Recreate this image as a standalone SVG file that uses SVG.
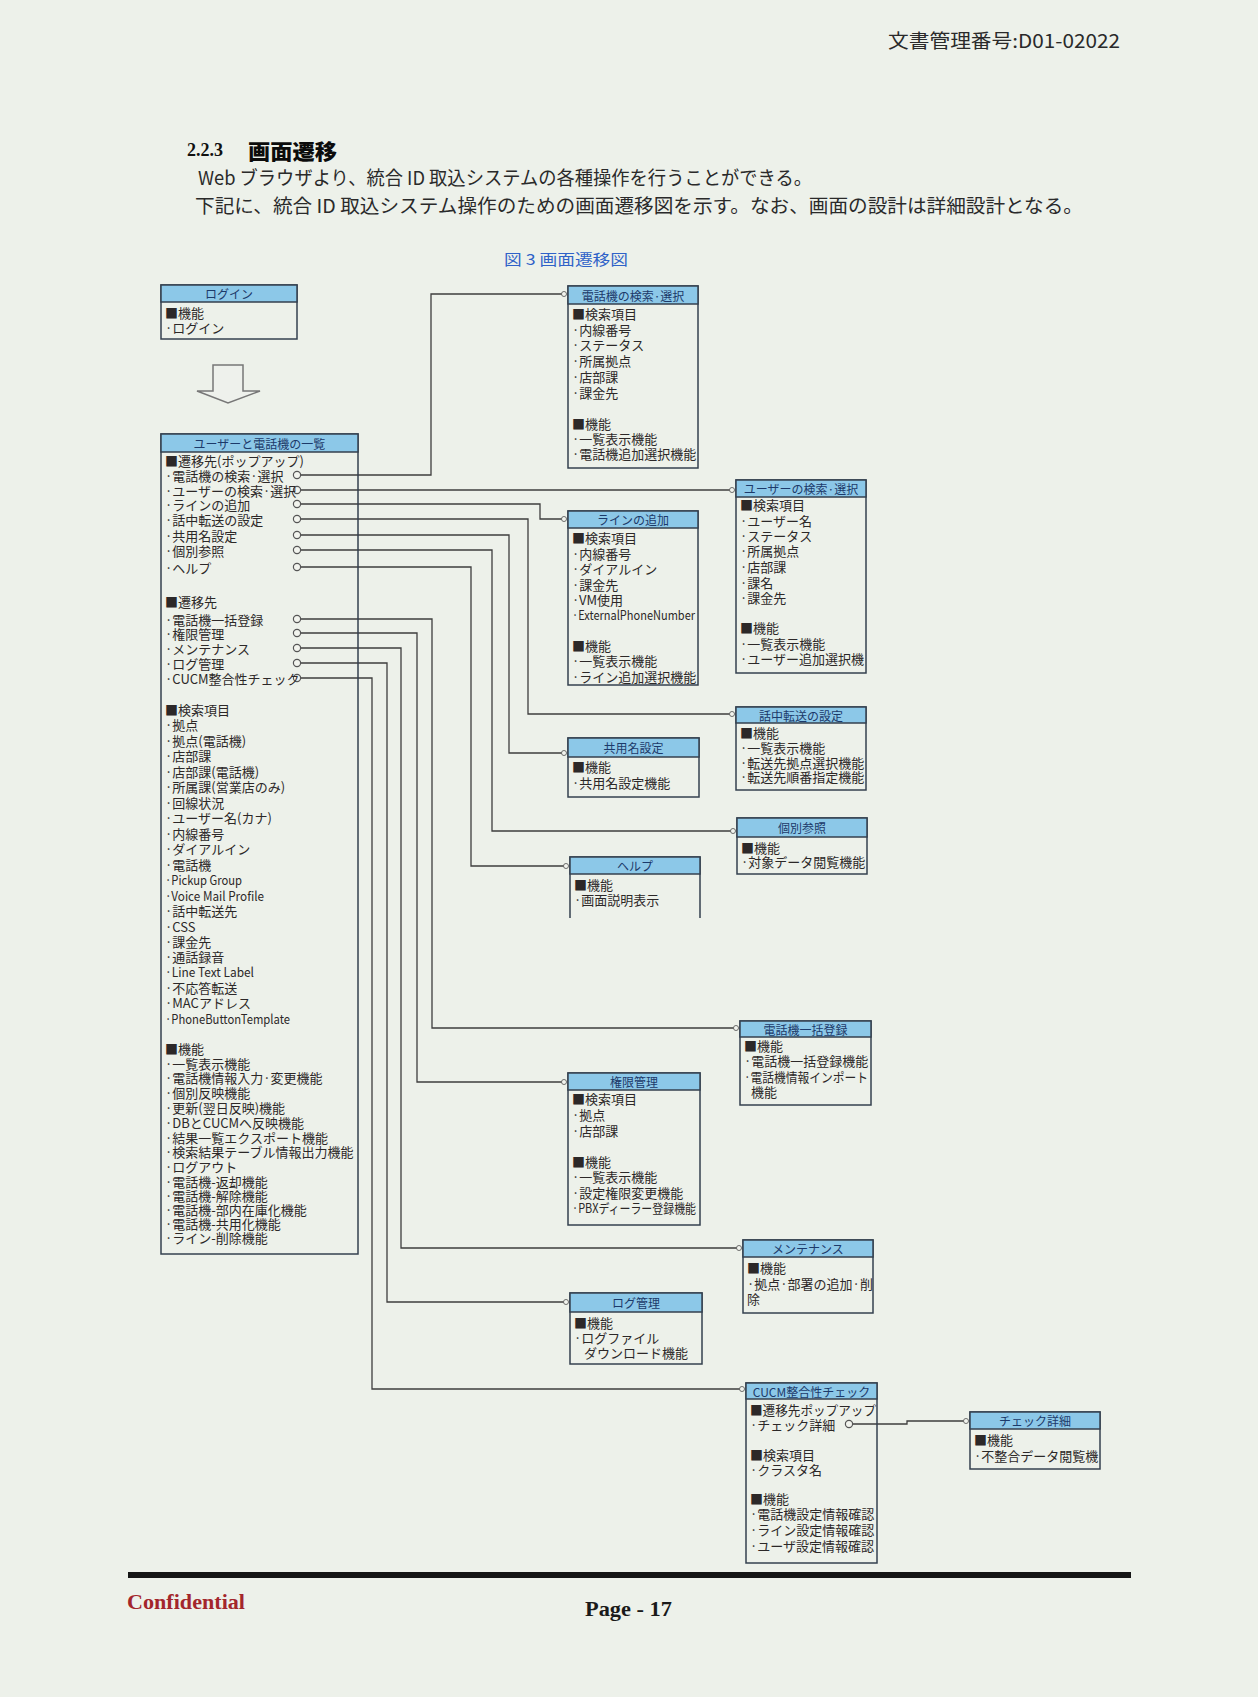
<svg xmlns="http://www.w3.org/2000/svg" width="1258" height="1697" viewBox="0 0 1258 1697">
<style>
.hdr{fill:#8cc8e8;stroke:#34404f;stroke-width:1.5}
.box{fill:none;stroke:#34404f;stroke-width:1.5}
.ht{font-family:"Noto Sans CJK JP",sans-serif;font-size:12px;fill:#1c3a6a;text-anchor:middle;dominant-baseline:central}
.t{font-family:"Noto Sans CJK JP",sans-serif;font-size:13px;fill:#2c2828;dominant-baseline:central}
.c{stroke:#3e3e3e;stroke-width:1.3;fill:none}
.dot{fill:#f2f4ee;stroke:#555;stroke-width:1.2}
.doc{font-family:"Noto Sans CJK JP",sans-serif;fill:#2a2a2a;dominant-baseline:central}
.cap{font-family:"Noto Sans CJK JP",sans-serif;fill:#2f62c8;dominant-baseline:central;font-size:15px}
</style>
<defs>
<marker id="o" viewBox="0 0 10 10" refX="5" refY="5" markerWidth="7" markerHeight="7" markerUnits="userSpaceOnUse"><circle cx="5" cy="5" r="3.6" class="dot"/></marker>
</defs>
<rect x="0" y="0" width="1258" height="1697" fill="#edf1ea"/>

<g id="page-text">
<text class="doc" x="888" y="39" font-size="19" textLength="232" lengthAdjust="spacingAndGlyphs">文書管理番号:D01-02022</text>
<text x="187" y="150" font-family="Liberation Serif,serif" font-weight="bold" font-size="18" fill="#111" dominant-baseline="central">2.2.3</text>
<text class="doc" x="248" y="150" font-size="21" font-weight="900" textLength="89" lengthAdjust="spacingAndGlyphs" style="fill:#0c0c0c">画面遷移</text>
<text class="doc" x="198" y="176" font-size="19" textLength="614" lengthAdjust="spacingAndGlyphs">Web ブラウザより、統合 ID 取込システムの各種操作を行うことができる。</text>
<text class="doc" x="195" y="204" font-size="19" textLength="888" lengthAdjust="spacingAndGlyphs">下記に、統合 ID 取込システム操作のための画面遷移図を示す。なお、画面の設計は詳細設計となる。</text>
<text class="cap" x="504" y="258" textLength="124" lengthAdjust="spacingAndGlyphs">図 3 画面遷移図</text>
</g>

<g id="connectors">
<path class="c" d="M300,475 H431 V294 H564" marker-end="url(#o)"/>
<path class="c" d="M300,490 H732" marker-end="url(#o)"/>
<path class="c" d="M300,504 H540 V519 H564" marker-end="url(#o)"/>
<path class="c" d="M300,519 H528 V714 H732" marker-end="url(#o)"/>
<path class="c" d="M300,535 H509 V753 H564" marker-end="url(#o)"/>
<path class="c" d="M300,550 H492 V831 H733" marker-end="url(#o)"/>
<path class="c" d="M300,567 H471 V866 H566" marker-end="url(#o)"/>
<path class="c" d="M300,619 H432 V1028 H736" marker-end="url(#o)"/>
<path class="c" d="M300,633 H417 V1082 H564" marker-end="url(#o)"/>
<path class="c" d="M300,648 H401 V1248 H739" marker-end="url(#o)"/>
<path class="c" d="M300,663 H387 V1302 H566" marker-end="url(#o)"/>
<path class="c" d="M300,678 H372 V1389 H742" marker-end="url(#o)"/>
<path class="c" d="M852,1424 H907 V1421 H966" marker-end="url(#o)"/>
<circle class="dot" cx="297" cy="475" r="3.6"/>
<circle class="dot" cx="297" cy="490" r="3.6"/>
<circle class="dot" cx="297" cy="504" r="3.6"/>
<circle class="dot" cx="297" cy="519" r="3.6"/>
<circle class="dot" cx="297" cy="535" r="3.6"/>
<circle class="dot" cx="297" cy="550" r="3.6"/>
<circle class="dot" cx="297" cy="567" r="3.6"/>
<circle class="dot" cx="297" cy="619" r="3.6"/>
<circle class="dot" cx="297" cy="633" r="3.6"/>
<circle class="dot" cx="297" cy="648" r="3.6"/>
<circle class="dot" cx="297" cy="663" r="3.6"/>
<circle class="dot" cx="297" cy="678" r="3.6"/>
<circle class="dot" cx="849" cy="1424" r="3.6"/>
<polygon points="213,365 243,365 243,391 260,391 228,403 197,391 213,391" fill="#eef1ec" stroke="#777" stroke-width="1.5"/>
</g>

<g id="login">
<rect class="box" x="161" y="285" width="136" height="54"/>
<rect class="hdr" x="161" y="285" width="136" height="17"/>
<text class="ht" x="229" y="293.5">ログイン</text>
<text class="t" x="165" y="312">■機能</text>
<text class="t" x="165" y="327">·ログイン</text>
</g>

<g id="user-phone-list">
<rect class="box" x="161" y="434" width="197" height="820"/>
<rect class="hdr" x="161" y="434" width="197" height="18"/>
<text class="ht" x="259.5" y="443">ユーザーと電話機の一覧</text>
<text class="t" x="165" y="460">■遷移先(ポップアップ)</text>
<text class="t" x="165" y="475">·電話機の検索·選択</text>
<text class="t" x="165" y="490">·ユーザーの検索·選択</text>
<text class="t" x="165" y="504">·ラインの追加</text>
<text class="t" x="165" y="519">·話中転送の設定</text>
<text class="t" x="165" y="535">·共用名設定</text>
<text class="t" x="165" y="550">·個別参照</text>
<text class="t" x="165" y="567">·ヘルプ</text>
<text class="t" x="165" y="601">■遷移先</text>
<text class="t" x="165" y="619">·電話機一括登録</text>
<text class="t" x="165" y="633">·権限管理</text>
<text class="t" x="165" y="648">·メンテナンス</text>
<text class="t" x="165" y="663">·ログ管理</text>
<text class="t" x="165" y="678">·CUCM整合性チェック</text>
<text class="t" x="165" y="709">■検索項目</text>
<text class="t" x="165" y="724">·拠点</text>
<text class="t" x="165" y="740">·拠点(電話機)</text>
<text class="t" x="165" y="755">·店部課</text>
<text class="t" x="165" y="771">·店部課(電話機)</text>
<text class="t" x="165" y="786">·所属課(営業店のみ)</text>
<text class="t" x="165" y="802">·回線状況</text>
<text class="t" x="165" y="817">·ユーザー名(カナ)</text>
<text class="t" x="165" y="833">·内線番号</text>
<text class="t" x="165" y="848">·ダイアルイン</text>
<text class="t" x="165" y="864">·電話機</text>
<text class="t" x="165" y="879" textLength="77" lengthAdjust="spacingAndGlyphs">·Pickup Group</text>
<text class="t" x="165" y="895" textLength="99" lengthAdjust="spacingAndGlyphs">·Voice Mail Profile</text>
<text class="t" x="165" y="910">·話中転送先</text>
<text class="t" x="165" y="926">·CSS</text>
<text class="t" x="165" y="941">·課金先</text>
<text class="t" x="165" y="956">·通話録音</text>
<text class="t" x="165" y="971" textLength="89" lengthAdjust="spacingAndGlyphs">·Line Text Label</text>
<text class="t" x="165" y="987">·不応答転送</text>
<text class="t" x="165" y="1002">·MACアドレス</text>
<text class="t" x="165" y="1018" textLength="125" lengthAdjust="spacingAndGlyphs">·PhoneButtonTemplate</text>
<text class="t" x="165" y="1048">■機能</text>
<text class="t" x="165" y="1063">·一覧表示機能</text>
<text class="t" x="165" y="1077">·電話機情報入力·変更機能</text>
<text class="t" x="165" y="1092">·個別反映機能</text>
<text class="t" x="165" y="1107">·更新(翌日反映)機能</text>
<text class="t" x="165" y="1122">·DBとCUCMへ反映機能</text>
<text class="t" x="165" y="1137">·結果一覧エクスポート機能</text>
<text class="t" x="165" y="1151">·検索結果テーブル情報出力機能</text>
<text class="t" x="165" y="1166">·ログアウト</text>
<text class="t" x="165" y="1181">·電話機-返却機能</text>
<text class="t" x="165" y="1195">·電話機-解除機能</text>
<text class="t" x="165" y="1209">·電話機-部内在庫化機能</text>
<text class="t" x="165" y="1223">·電話機-共用化機能</text>
<text class="t" x="165" y="1237">·ライン-削除機能</text>
</g>

<g id="phone-search">
<rect class="box" x="568" y="286" width="130" height="182"/>
<rect class="hdr" x="568" y="286" width="130" height="18"/>
<text class="ht" x="633" y="295">電話機の検索·選択</text>
<text class="t" x="572" y="313">■検索項目</text>
<text class="t" x="572" y="329">·内線番号</text>
<text class="t" x="572" y="344">·ステータス</text>
<text class="t" x="572" y="360">·所属拠点</text>
<text class="t" x="572" y="376">·店部課</text>
<text class="t" x="572" y="392">·課金先</text>
<text class="t" x="572" y="423">■機能</text>
<text class="t" x="572" y="438">·一覧表示機能</text>
<text class="t" x="572" y="453">·電話機追加選択機能</text>
</g>

<g id="user-search">
<rect class="box" x="736" y="480" width="130" height="193"/>
<rect class="hdr" x="736" y="480" width="130" height="17"/>
<text class="ht" x="801" y="488.5">ユーザーの検索·選択</text>
<text class="t" x="740" y="504">■検索項目</text>
<text class="t" x="740" y="520">·ユーザー名</text>
<text class="t" x="740" y="535">·ステータス</text>
<text class="t" x="740" y="550">·所属拠点</text>
<text class="t" x="740" y="566">·店部課</text>
<text class="t" x="740" y="582">·課名</text>
<text class="t" x="740" y="597">·課金先</text>
<text class="t" x="740" y="627">■機能</text>
<text class="t" x="740" y="643">·一覧表示機能</text>
<text class="t" x="740" y="658">·ユーザー追加選択機</text>
</g>

<g id="line-add">
<rect class="box" x="568" y="511" width="130" height="174"/>
<rect class="hdr" x="568" y="511" width="130" height="17"/>
<text class="ht" x="633" y="519.5">ラインの追加</text>
<text class="t" x="572" y="537">■検索項目</text>
<text class="t" x="572" y="553">·内線番号</text>
<text class="t" x="572" y="568">·ダイアルイン</text>
<text class="t" x="572" y="584">·課金先</text>
<text class="t" x="572" y="599">·VM使用</text>
<text class="t" x="572" y="614" textLength="123" lengthAdjust="spacingAndGlyphs">·ExternalPhoneNumber</text>
<text class="t" x="572" y="645">■機能</text>
<text class="t" x="572" y="660">·一覧表示機能</text>
<text class="t" x="572" y="676">·ライン追加選択機能</text>
</g>

<g id="call-forward">
<rect class="box" x="736" y="707" width="130" height="83"/>
<rect class="hdr" x="736" y="707" width="130" height="16"/>
<text class="ht" x="801" y="715">話中転送の設定</text>
<text class="t" x="740" y="732">■機能</text>
<text class="t" x="740" y="747">·一覧表示機能</text>
<text class="t" x="740" y="762">·転送先拠点選択機能</text>
<text class="t" x="740" y="776">·転送先順番指定機能</text>
</g>

<g id="shared-name">
<rect class="box" x="568" y="738" width="131" height="59"/>
<rect class="hdr" x="568" y="738" width="131" height="19"/>
<text class="ht" x="633.5" y="747.5">共用名設定</text>
<text class="t" x="572" y="766">■機能</text>
<text class="t" x="572" y="782">·共用名設定機能</text>
</g>

<g id="individual-ref">
<rect class="box" x="737" y="818" width="130" height="56"/>
<rect class="hdr" x="737" y="818" width="130" height="19"/>
<text class="ht" x="802" y="827.5">個別参照</text>
<text class="t" x="741" y="847">■機能</text>
<text class="t" x="741" y="861">·対象データ閲覧機能</text>
</g>

<g id="help">
<path class="box" d="M570,918 V857 H700 V918"/>
<rect class="hdr" x="570" y="857" width="130" height="17"/>
<text class="ht" x="635" y="865.5">ヘルプ</text>
<text class="t" x="574" y="884">■機能</text>
<text class="t" x="574" y="899">·画面説明表示</text>
</g>

<g id="phone-bulk">
<rect class="box" x="740" y="1021" width="131" height="84"/>
<rect class="hdr" x="740" y="1021" width="131" height="16"/>
<text class="ht" x="805.5" y="1029">電話機一括登録</text>
<text class="t" x="744" y="1045">■機能</text>
<text class="t" x="744" y="1060">·電話機一括登録機能</text>
<text class="t" x="744" y="1076" textLength="124" lengthAdjust="spacingAndGlyphs">·電話機情報インポート</text>
<text class="t" x="751" y="1091">機能</text>
</g>

<g id="permission">
<rect class="box" x="568" y="1073" width="132" height="152"/>
<rect class="hdr" x="568" y="1073" width="132" height="17"/>
<text class="ht" x="634" y="1081.5">権限管理</text>
<text class="t" x="572" y="1098">■検索項目</text>
<text class="t" x="572" y="1114">·拠点</text>
<text class="t" x="572" y="1130">·店部課</text>
<text class="t" x="572" y="1161">■機能</text>
<text class="t" x="572" y="1176">·一覧表示機能</text>
<text class="t" x="572" y="1192">·設定権限変更機能</text>
<text class="t" x="572" y="1207" textLength="124" lengthAdjust="spacingAndGlyphs">·PBXディーラー登録機能</text>
</g>

<g id="maintenance">
<rect class="box" x="743" y="1240" width="130" height="73"/>
<rect class="hdr" x="743" y="1240" width="130" height="17"/>
<text class="ht" x="808" y="1248.5">メンテナンス</text>
<text class="t" x="747" y="1267">■機能</text>
<text class="t" x="747" y="1283">·拠点·部署の追加·削</text>
<text class="t" x="747" y="1298">除</text>
</g>

<g id="log-mgmt">
<rect class="box" x="570" y="1293" width="132" height="71"/>
<rect class="hdr" x="570" y="1293" width="132" height="19"/>
<text class="ht" x="636" y="1302.5">ログ管理</text>
<text class="t" x="574" y="1322">■機能</text>
<text class="t" x="574" y="1337">·ログファイル</text>
<text class="t" x="584" y="1352">ダウンロード機能</text>
</g>

<g id="cucm-check">
<rect class="box" x="746" y="1383" width="131" height="180"/>
<rect class="hdr" x="746" y="1383" width="131" height="16"/>
<text class="ht" x="811.5" y="1391">CUCM整合性チェック</text>
<text class="t" x="750" y="1409" textLength="126" lengthAdjust="spacingAndGlyphs">■遷移先ポップアップ</text>
<text class="t" x="750" y="1424">·チェック詳細</text>
<text class="t" x="750" y="1454">■検索項目</text>
<text class="t" x="750" y="1469">·クラスタ名</text>
<text class="t" x="750" y="1498">■機能</text>
<text class="t" x="750" y="1513">·電話機設定情報確認</text>
<text class="t" x="750" y="1529">·ライン設定情報確認</text>
<text class="t" x="750" y="1545">·ユーザ設定情報確認</text>
</g>

<g id="check-detail">
<rect class="box" x="970" y="1412" width="130" height="57"/>
<rect class="hdr" x="970" y="1412" width="130" height="17"/>
<text class="ht" x="1035" y="1420.5">チェック詳細</text>
<text class="t" x="974" y="1439">■機能</text>
<text class="t" x="974" y="1455">·不整合データ閲覧機</text>
</g>

<g id="footer">
<rect x="128" y="1572" width="1003" height="6" fill="#151515"/>
<text x="127" y="1602" font-family="Liberation Serif,serif" font-weight="bold" font-size="21" fill="#a3262c" dominant-baseline="central" textLength="118" lengthAdjust="spacingAndGlyphs">Confidential</text>
<text x="585" y="1609" font-family="Liberation Serif,serif" font-weight="bold" font-size="20" fill="#1a1a1a" dominant-baseline="central" textLength="87" lengthAdjust="spacingAndGlyphs">Page - 17</text>
</g>
</svg>
